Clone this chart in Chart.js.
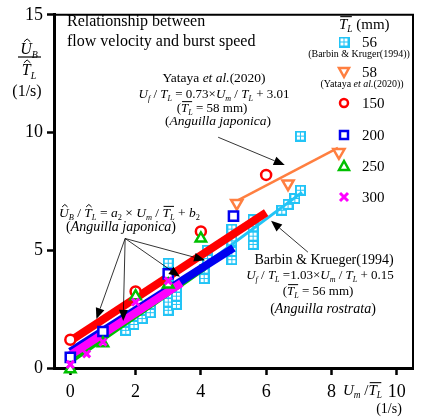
<!DOCTYPE html>
<html><head><meta charset="utf-8">
<script src="https://cdn.jsdelivr.net/npm/chart.js@4/dist/chart.umd.min.js"></script>
<style>html,body{margin:0;padding:0;background:#fff;}canvas{display:block;}</style>
</head><body>
<canvas id="c" width="422" height="417"></canvas>
<script>
// ---- data ----
const xTicks = [0, 2, 4, 6, 8, 10];
const yTicks = [0, 5, 10, 15];
const legendLabels = ['56', '58', '150', '200', '250', '300'];

const cyan56 = [
  {x:1.7,y:1.6},{x:1.7,y:1.95},{x:1.95,y:1.85},{x:1.95,y:2.2},{x:2.2,y:2.1},{x:2.2,y:2.45},
  {x:2.45,y:2.35},{x:2.45,y:2.7},{x:3.0,y:2.45},{x:3.0,y:2.8},{x:3.0,y:3.15},{x:3.0,y:3.5},
  {x:3.0,y:4.1},{x:3.0,y:4.45},{x:3.25,y:2.7},{x:3.25,y:3.05},{x:3.25,y:3.4},{x:4.1,y:3.8},
  {x:4.1,y:4.2},{x:4.2,y:4.65},{x:4.2,y:5.0},{x:4.95,y:4.6},{x:4.95,y:4.95},{x:4.95,y:5.4},
  {x:4.95,y:5.9},{x:5.6,y:5.25},{x:5.6,y:5.6},{x:5.6,y:6.0},{x:5.6,y:6.3},{x:6.48,y:6.7},
  {x:6.67,y:6.95},{x:6.88,y:7.2},{x:7.05,y:7.55},{x:7.05,y:9.85}
];
const orange58 = [{x:5.1,y:7.0},{x:6.67,y:7.83},{x:8.23,y:9.16}];
const red150 = [{x:0,y:1.2},{x:2,y:3.25},{x:4,y:5.8},{x:6,y:8.2}];
const blue200 = [{x:0,y:0.45},{x:1,y:1.55},{x:3,y:4.0},{x:5,y:6.45}];
const green250 = [{x:0,y:-0.05},{x:1,y:1.05},{x:2,y:3.05},{x:3,y:3.55},{x:4,y:5.5}];
const magenta300 = [{x:0,y:0.15},{x:0.5,y:0.6},{x:1,y:1.1},{x:2,y:2.8},{x:3,y:3.7}];

const fitRed = [{x:0,y:1.15},{x:6,y:6.6}];
const fitBlue = [{x:0,y:0.7},{x:5,y:5.1}];
const fitGreen = [{x:0,y:0.35},{x:4.1,y:4.3}];
const fitMagenta = [{x:0,y:0.55},{x:3.4,y:3.6}];
const fitCyan = [{x:1.5,y:1.7},{x:7.1,y:7.46}];
const fitOrange = [{x:5.1,y:7.1},{x:8.2,y:9.35}];

// arrows (data units): from -> to
const arrowsJaponica = [
  [{x:1.68,y:5.5},{x:0.8,y:2.08}],
  [{x:1.68,y:5.5},{x:1.62,y:2.0}],
  [{x:1.68,y:5.5},{x:3.36,y:3.88}],
  [{x:1.68,y:5.5},{x:4.13,y:4.58}]
];
const arrowBarbin = [{x:7.28,y:4.92},{x:6.15,y:6.25}];
const arrowYataya = [{x:4.53,y:9.8},{x:6.57,y:8.62}];

// ---- styling ----
const FONT = '"Liberation Serif","Times New Roman",serif';
const C = {cyan:'#22c4f6', orange:'#ff7f40', red:'#ff0000', blue:'#0000f0', green:'#00c000', magenta:'#ff00ff'};

function gridSquare(){
  const cv = document.createElement('canvas'); cv.width = 11; cv.height = 11;
  const g = cv.getContext('2d');
  g.fillStyle = C.cyan; g.fillRect(0,0,11,11);
  g.fillStyle = '#fff';
  g.fillRect(2,2,3,3); g.fillRect(6,2,3,3); g.fillRect(2,6,3,3); g.fillRect(6,6,3,3);
  return cv;
}
const sqIcon = gridSquare();

function rich(ctx, parts, x, yc, size, align){
  const sub = size*0.62;
  const fontOf = p => (p[1].includes('i')?'italic ':'') + (p[1].includes('s')?sub:size) + 'px ' + FONT;
  const widths = parts.map(p => { ctx.font = fontOf(p); return ctx.measureText(p[0]).width; });
  const total = widths.reduce((a,b)=>a+b,0);
  let cx = align==='center' ? x-total/2 : align==='right' ? x-total : x;
  const base = yc + size*0.33;
  ctx.textBaseline = 'alphabetic'; ctx.textAlign = 'left'; ctx.fillStyle = '#000'; ctx.strokeStyle = '#000';
  parts.forEach((p,i)=>{
    const f = p[1]; ctx.font = fontOf(p);
    const y = f.includes('s') ? base + size*0.22 : base;
    ctx.fillText(p[0], cx, y);
    const w = widths[i];
    if (f.includes('b')) {
      ctx.beginPath(); ctx.lineWidth = Math.max(1, size/14);
      ctx.moveTo(cx+w*0.15, base-size*0.82); ctx.lineTo(cx+w+size*0.3, base-size*0.82); ctx.stroke();
    }
    if (f.includes('h')) {
      const mx = cx + w*0.6, ty = base - size*0.9;
      ctx.beginPath(); ctx.lineWidth = 1;
      ctx.moveTo(mx-size*0.2, ty+size*0.12); ctx.lineTo(mx, ty-size*0.06); ctx.lineTo(mx+size*0.2, ty+size*0.12); ctx.stroke();
    }
    cx += w;
  });
}

function arrow(ctx, x1, y1, x2, y2){
  ctx.save();
  ctx.strokeStyle = '#000'; ctx.fillStyle = '#000'; ctx.lineWidth = 0.8;
  const a = Math.atan2(y2-y1, x2-x1), L = 11, W = 4.5;
  const bx = x2 - L*Math.cos(a), by = y2 - L*Math.sin(a);
  ctx.beginPath(); ctx.moveTo(x1,y1); ctx.lineTo(bx,by); ctx.stroke();
  ctx.beginPath(); ctx.moveTo(x2,y2);
  ctx.lineTo(bx - W*Math.sin(a), by + W*Math.cos(a));
  ctx.lineTo(bx + W*Math.sin(a), by - W*Math.cos(a));
  ctx.closePath(); ctx.fill();
  ctx.restore();
}

function marker(ctx, style, x, y){
  ctx.save();
  ctx.lineWidth = 2.5;
  if (style==='sq'){ ctx.drawImage(sqIcon, x-5.5, y-5.5); }
  else if (style==='tdown'){ ctx.strokeStyle=C.orange; ctx.fillStyle='#fff'; ctx.beginPath(); ctx.moveTo(x-5,y-4); ctx.lineTo(x+5,y-4); ctx.lineTo(x,y+5); ctx.closePath(); ctx.fill(); ctx.stroke(); }
  else if (style==='circ'){ ctx.strokeStyle=C.red; ctx.fillStyle='#fff'; ctx.beginPath(); ctx.arc(x,y,4,0,Math.PI*2); ctx.fill(); ctx.stroke(); }
  else if (style==='rect'){ ctx.strokeStyle=C.blue; ctx.fillStyle='#fff'; ctx.beginPath(); ctx.rect(x-4,y-4,8,8); ctx.fill(); ctx.stroke(); }
  else if (style==='tri'){ ctx.strokeStyle=C.green; ctx.fillStyle='#fff'; ctx.beginPath(); ctx.moveTo(x-5,y+4); ctx.lineTo(x+5,y+4); ctx.lineTo(x,y-5); ctx.closePath(); ctx.fill(); ctx.stroke(); }
  else if (style==='x'){ ctx.strokeStyle=C.magenta; ctx.lineWidth=3; ctx.beginPath(); ctx.moveTo(x-4,y-4); ctx.lineTo(x+4,y+4); ctx.moveTo(x+4,y-4); ctx.lineTo(x-4,y+4); ctx.stroke(); }
  ctx.restore();
}

const decor = {
  id: 'decor',
  afterDraw(chart){
    const ctx = chart.ctx, xs = chart.scales.x, ys = chart.scales.y, a = chart.chartArea;
    const P = p => [xs.getPixelForValue(p.x), ys.getPixelForValue(p.y)];
    // frame top/right
    ctx.save(); ctx.strokeStyle='#000'; ctx.lineWidth=2;
    ctx.beginPath(); ctx.moveTo(a.left, a.top); ctx.lineTo(a.right, a.top); ctx.lineTo(a.right, a.bottom); ctx.stroke();
    ctx.restore();
    // arrows
    arrowsJaponica.forEach(([f,t]) => { const p1=P(f), p2=P(t); arrow(ctx,p1[0],p1[1],p2[0],p2[1]); });
    { const p1=P(arrowBarbin[0]), p2=P(arrowBarbin[1]); arrow(ctx,p1[0],p1[1],p2[0],p2[1]); }
    { const p1=P(arrowYataya[0]), p2=P(arrowYataya[1]); arrow(ctx,p1[0],p1[1],p2[0],p2[1]); }

    // title text
    rich(ctx, [['Relationship between','']], 67, 21, 16, 'left');
    rich(ctx, [['flow velocity and burst speed','']], 67, 41, 16, 'left');

    // Yataya block
    rich(ctx, [['Yataya ',''],['et al.','i'],['(2020)','']], 214, 78, 13.5, 'center');
    rich(ctx, [['U','i'],['f','is'],[' / ',''],['T','i'],['L','is'],[' = 0.73\u00D7',''],['U','i'],['m','is'],[' / ',''],['T','i'],['L','is'],[' + 3.01','']], 214, 94, 13, 'center');
    rich(ctx, [['(',''],['T','ib'],['L','is'],[' = 58 mm)','']], 212, 108, 13, 'center');
    rich(ctx, [['(',''],['Anguilla japonica','i'],[')','']], 218, 121, 13.5, 'center');

    // left equation
    rich(ctx, [['U','ih'],['B','is'],[' / ',''],['T','ih'],['L','is'],[' = ',''],['a','i'],['2','s'],[' \u00D7 ',''],['U','i'],['m','is'],[' / ',''],['T','ib'],['L','is'],[' + ',''],['b','i'],['2','s']], 59, 213, 13.5, 'left');
    rich(ctx, [['(',''],['Anguilla japonica','i'],[')','']], 121, 226, 14, 'center');

    // Barbin block
    rich(ctx, [['Barbin & Krueger(1994)','']], 324, 259, 14, 'center');
    rich(ctx, [['U','i'],['f','is'],[' / ',''],['T','i'],['L','is'],[' =1.03\u00D7',''],['U','i'],['m','is'],[' / ',''],['T','i'],['L','is'],[' + 0.15','']], 320, 275, 13, 'center');
    rich(ctx, [['(',''],['T','ib'],['L','is'],[' = 56 mm)','']], 318, 291, 13, 'center');
    rich(ctx, [['(',''],['Anguilla rostrata','i'],[')','']], 323, 308, 14, 'center');

    // y title
    rich(ctx, [['U','ih'],['B','is']], 29, 49, 16, 'center');
    ctx.save(); ctx.strokeStyle='#000'; ctx.lineWidth=1.2; ctx.beginPath(); ctx.moveTo(18,57); ctx.lineTo(41,57); ctx.stroke(); ctx.restore();
    rich(ctx, [['T','ih'],['L','is']], 29, 70, 16, 'center');
    rich(ctx, [['(1/s)','']], 27, 91, 16, 'center');

    // x title
    rich(ctx, [['U','i'],['m','is'],[' /',''],['T','ib'],['L','is']], 343, 390, 15, 'left');
    rich(ctx, [['(1/s)','']], 389, 408, 14, 'center');

    // legend
    rich(ctx, [['T','ib'],['L','is'],[' (mm)','']], 339, 24, 15, 'left');
    const styles = ['sq','tdown','circ','rect','tri','x'];
    const ly = [42, 72, 103, 135, 166, 197];
    styles.forEach((s,i)=>{ marker(ctx, s, 344, ly[i]); rich(ctx, [[legendLabels[i],'']], 362, ly[i], 15, 'left'); });
    rich(ctx, [['(Barbin & Kruger(1994))','']], 359, 54, 10, 'center');
    rich(ctx, [['(Yataya ',''],['et al.','i'],['(2020))','']], 362, 84, 10, 'center');
  }
};

const lineDS = (data, color, w, order) => ({type:'line', data, borderColor:color, borderWidth:w, pointRadius:0, fill:false, order, clip:false, borderCapStyle:'butt'});

new Chart(document.getElementById('c'), {
  type: 'scatter',
  data: { datasets: [
    {data: magenta300, pointStyle:'crossRot', pointRadius:5, borderColor:C.magenta, borderWidth:3, order:1, clip:false},
    {data: green250, pointStyle:'triangle', pointRadius:6, borderColor:C.green, backgroundColor:'#fff', borderWidth:2.5, order:2, clip:false},
    {data: blue200, pointStyle:'rect', pointRadius:6.5, borderColor:C.blue, backgroundColor:'#fff', borderWidth:2.5, order:3, clip:false},
    {data: red150, pointStyle:'circle', pointRadius:5, borderColor:C.red, backgroundColor:'#fff', borderWidth:2.5, order:4, clip:false},
    {data: orange58, pointStyle:'triangle', rotation:180, pointRadius:6.5, borderColor:C.orange, backgroundColor:'#fff', borderWidth:2.5, order:5, clip:false},
    lineDS(fitRed, C.red, 8, 6),
    lineDS(fitMagenta, C.magenta, 8, 7),
    lineDS(fitBlue, C.blue, 8, 8),
    lineDS(fitGreen, C.green, 8, 9),
    lineDS(fitOrange, C.orange, 2.5, 10),
    lineDS(fitCyan, C.cyan, 3, 11),
    {data: cyan56, pointStyle: sqIcon, pointRadius:6, order:12, clip:false}
  ]},
  options: {
    responsive:false, animation:false, events:[],
    layout:{padding:{top:8,right:8,left:0,bottom:0}},
    plugins:{legend:{display:false}, tooltip:{enabled:false}},
    scales:{
      x:{type:'linear', min:-0.5, max:10.5,
        afterBuildTicks: s => { s.ticks = xTicks.map(v=>({value:v})); },
        afterFit: s => { s.height = 49; },
        ticks:{color:'#000', font:{family:FONT, size:18}, padding:6, maxRotation:0, autoSkip:false},
        grid:{drawOnChartArea:false, drawTicks:true, tickLength:7, tickWidth:2.5, tickColor:'#000'},
        border:{display:true, color:'#000', width:3}},
      y:{type:'linear', min:0, max:15,
        afterBuildTicks: s => { s.ticks = yTicks.map(v=>({value:v})); },
        afterFit: s => { s.width = 54; },
        ticks:{color:'#000', font:{family:FONT, size:18}, padding:4, autoSkip:false},
        grid:{drawOnChartArea:false, drawTicks:true, tickLength:7, tickWidth:2.5, tickColor:'#000'},
        border:{display:true, color:'#000', width:3}}
    }
  },
  plugins:[decor]
});
</script>
</body></html>
